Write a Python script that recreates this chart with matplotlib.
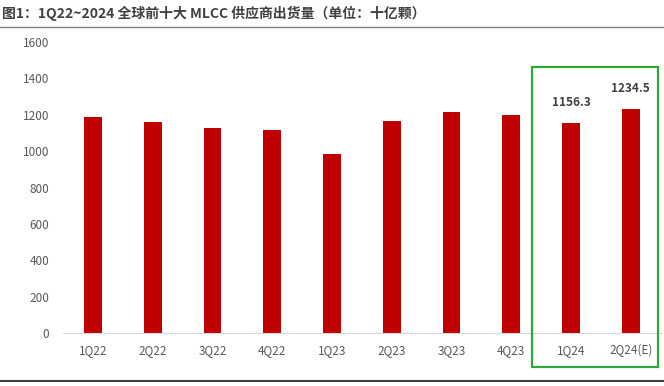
import matplotlib
matplotlib.use("Agg")
import matplotlib.pyplot as plt
from matplotlib.patches import Rectangle
from matplotlib.lines import Line2D

plt.rcParams["font.family"] = ["Noto Sans CJK SC", "DejaVu Sans"]

quarters = ["1Q22", "2Q22", "3Q22", "4Q22", "1Q23", "2Q23", "3Q23", "4Q23", "1Q24", "2Q24(E)"]
shipments = [1188, 1158, 1128, 1119, 987, 1166, 1215, 1199, 1156.3, 1234.5]
labelled = {8: "1156.3", 9: "1234.5"}
y_ticks = [0, 200, 400, 600, 800, 1000, 1200, 1400, 1600]

bar_color = "#C00000"
tick_color = "#595959"

fig = plt.figure(figsize=(6.64, 3.86), dpi=100)
ax = fig.add_axes([0.095, 0.137, 0.9, 0.754])

x = range(len(quarters))
ax.bar(x, shipments, width=0.3, color=bar_color, zorder=2)
ax.set_xlim(-0.5, len(quarters) - 0.5)
ax.set_ylim(0, 1600)
ax.set_yticks(y_ticks)
ax.set_xticks(list(x))
ax.set_xticklabels(quarters)
ax.tick_params(axis="both", length=0, labelsize=8.5, colors=tick_color)
ax.tick_params(axis="x", pad=8)
ax.tick_params(axis="y", pad=10)

for side in ["top", "right", "left"]:
    ax.spines[side].set_visible(False)
ax.spines["bottom"].set_color("#D9D9D9")

for i, txt in labelled.items():
    ax.text(i, shipments[i] + 75, txt, ha="center", va="bottom",
            fontsize=8.5, fontweight="bold", color="#404040")

# highlight box around the 2024 quarters
box = Rectangle((7.35, -0.117), 2.11, 1.031, transform=ax.get_xaxis_transform(),
                fill=False, edgecolor="#2EA836", linewidth=1.6, clip_on=False, zorder=3)
ax.add_patch(box)

fig.text(0.003, 0.965, "图1：1Q22~2024 全球前十大 MLCC 供应商出货量（单位：十亿颗）",
         fontsize=10, fontweight="bold", color="#404040", va="center")
fig.add_artist(Line2D([0, 1], [0.93, 0.93], transform=fig.transFigure, color="#808080", linewidth=1))
fig.add_artist(Line2D([0, 1], [0.013, 0.013], transform=fig.transFigure, color="#404040", linewidth=1.5))

fig.savefig("out.png", dpi=100)
